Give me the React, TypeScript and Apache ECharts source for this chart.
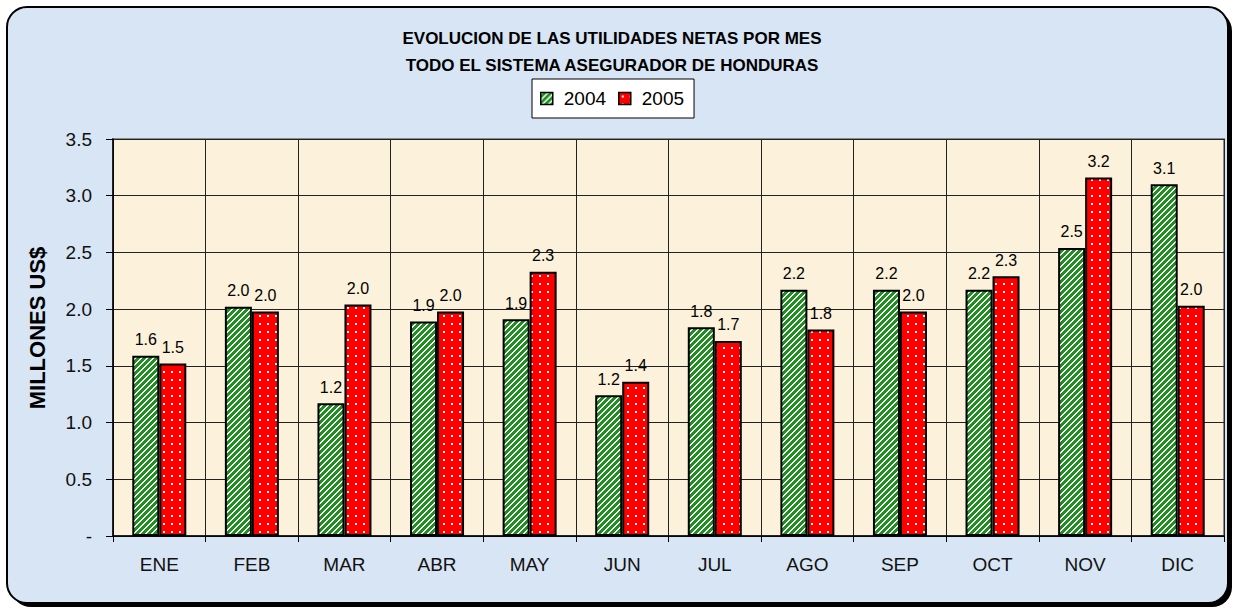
import React, { useEffect, useRef } from "react";
import * as echarts from "echarts";

const categories = ["ENE", "FEB", "MAR", "ABR", "MAY", "JUN", "JUL", "AGO", "SEP", "OCT", "NOV", "DIC"];
const values2004 = [1.59, 2.02, 1.17, 1.89, 1.91, 1.24, 1.84, 2.17, 2.17, 2.17, 2.54, 3.1];
const values2005 = [1.52, 1.98, 2.04, 1.98, 2.33, 1.36, 1.72, 1.82, 1.98, 2.29, 3.16, 2.03];
const seriesNames = ["2004", "2005"];
const titleLines = ["EVOLUCION DE LAS UTILIDADES NETAS POR MES", "TODO EL SISTEMA ASEGURADOR DE HONDURAS"];
const yAxisName = "MILLONES US$";

const FONT = "Liberation Sans, Arial, sans-serif";

function makeStripePattern() {
  const n = 6;
  const c = document.createElement("canvas");
  c.width = n;
  c.height = n;
  const ctx = c.getContext("2d")!;
  for (let y = 0; y < n; y++) {
    for (let x = 0; x < n; x++) {
      const k = (x + y) % n;
      ctx.fillStyle = k < 2 ? "#ffffff" : "#1f8f1f";
      ctx.fillRect(x, y, 1, 1);
    }
  }
  return { image: c, repeat: "repeat", imageWidth: n, imageHeight: n } as any;
}

function makeDotPattern() {
  const n = 8;
  const c = document.createElement("canvas");
  c.width = n;
  c.height = n;
  const ctx = c.getContext("2d")!;
  ctx.fillStyle = "#ff0000";
  ctx.fillRect(0, 0, n, n);
  ctx.fillStyle = "#ffffff";
  ctx.fillRect(3, 3, 2, 2);
  return { image: c, repeat: "repeat", imageWidth: n, imageHeight: n } as any;
}

export default function App() {
  const ref = useRef<HTMLDivElement>(null);
  useEffect(() => {
    document.body.style.margin = "0";
    const chart = echarts.init(ref.current!, null, { renderer: "svg" });
    const green = makeStripePattern();
    const red = makeDotPattern();
    const labelStyle = {
      show: true,
      position: "top" as const,
      distance: 8,
      color: "#000",
      fontSize: 16,
      fontFamily: FONT,
      formatter: (p: any) => Number(p.value).toFixed(1),
    };
    chart.setOption({
      animation: false,
      backgroundColor: "#ffffff",
      textStyle: { fontFamily: FONT },
      graphic: [
        {
          type: "rect",
          z: -20,
          shape: { x: 11, y: 11, width: 1221, height: 596, r: 20 },
          style: { fill: "#000" },
        },
        {
          type: "rect",
          z: -19,
          shape: { x: 7, y: 7, width: 1221, height: 596, r: 20 },
          style: { fill: "#d7e5f4", stroke: "#000", lineWidth: 2 },
        },
        {
          type: "text",
          z: 10,
          x: 612,
          y: 38,
          style: {
            text: titleLines[0],
            align: "center",
            verticalAlign: "middle",
            font: `bold 17px ${FONT}`,
            fill: "#000",
          },
        },
        {
          type: "text",
          z: 10,
          x: 612,
          y: 65,
          style: {
            text: titleLines[1],
            align: "center",
            verticalAlign: "middle",
            font: `bold 17px ${FONT}`,
            fill: "#000",
          },
        },
        {
          type: "text",
          z: 10,
          x: 37,
          y: 328,
          rotation: Math.PI / 2,
          style: {
            text: yAxisName,
            align: "center",
            verticalAlign: "middle",
            font: `bold 22px ${FONT}`,
            fill: "#000",
          },
        },
      ],
      legend: {
        left: 532,
        top: 79,
        data: seriesNames,
        icon: "rect",
        itemWidth: 12,
        itemHeight: 12,
        itemGap: 12,
        padding: [10, 10, 10, 8],
        backgroundColor: "#ffffff",
        borderColor: "#000",
        borderWidth: 1,
        borderRadius: 0,
        itemStyle: { borderColor: "#000", borderWidth: 1.5 },
        textStyle: { fontSize: 19, color: "#000", fontFamily: FONT, padding: [0, 0, 0, 6] },
      },
      grid: {
        left: 113,
        right: 14,
        top: 139,
        bottom: 72,
        show: true,
        backgroundColor: "#fcf1da",
        borderColor: "#8c8c8c",
        borderWidth: 2,
      },
      xAxis: {
        type: "category",
        data: categories,
        boundaryGap: true,
        axisLine: { show: true, lineStyle: { color: "#000", width: 1.5 } },
        axisTick: { show: true, length: 6, interval: 0, lineStyle: { color: "#000" } },
        axisLabel: { fontSize: 19, color: "#111", margin: 19, fontFamily: FONT, interval: 0 },
        splitLine: { show: true, interval: 0, lineStyle: { color: "#222", width: 1 } },
      },
      yAxis: {
        type: "value",
        min: 0,
        max: 3.5,
        interval: 0.5,
        axisLine: { show: true, lineStyle: { color: "#000", width: 1.5 } },
        axisTick: { show: true, length: 7, lineStyle: { color: "#000" } },
        axisLabel: {
          fontSize: 19,
          color: "#111",
          margin: 21,
          fontFamily: FONT,
          formatter: (v: number) => (v === 0 ? "-" : v.toFixed(1)),
        },
        splitLine: { show: true, lineStyle: { color: "#222", width: 1 } },
      },
      series: [
        {
          name: seriesNames[0],
          type: "bar",
          data: values2004,
          barWidth: 27,
          barGap: "0%",
          itemStyle: { color: green, borderColor: "#000", borderWidth: 2 },
          label: labelStyle,
        },
        {
          name: seriesNames[1],
          type: "bar",
          data: values2005,
          barWidth: 27,
          barGap: "0%",
          itemStyle: { color: red, borderColor: "#000", borderWidth: 2 },
          label: labelStyle,
        },
      ],
    });
    return () => chart.dispose();
  }, []);
  return <div ref={ref} style={{ width: 1238, height: 608 }} />;
}
